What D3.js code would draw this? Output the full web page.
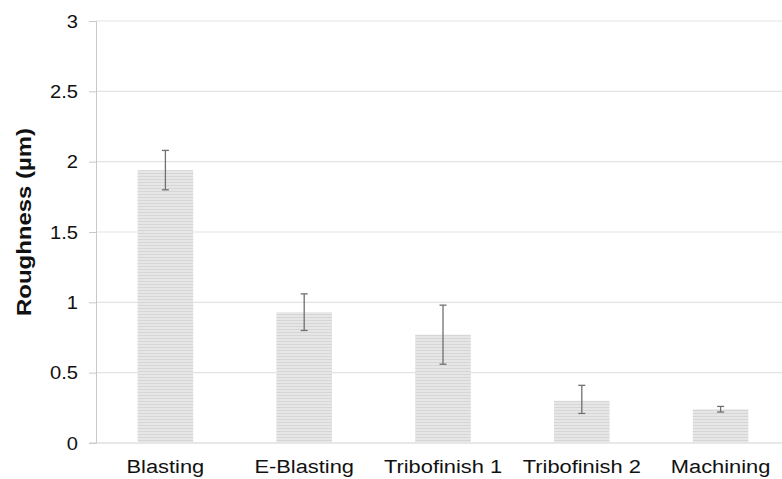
<!DOCTYPE html>
<html>
<head>
<meta charset="utf-8">
<script src="https://cdn.jsdelivr.net/npm/d3@7"></script>
<style>
  html, body { margin: 0; padding: 0; background: #fff; }
  svg { display: block; }
  text { font-family: "Liberation Sans", Arial, sans-serif; fill: #111; }
</style>
</head>
<body>
<svg id="chart" width="782" height="479"></svg>
<script>
const categories = ["Blasting", "E-Blasting", "Tribofinish 1", "Tribofinish 2", "Machining"];
const roughness = [1.94, 0.93, 0.77, 0.30, 0.24];
const errorLow = [1.80, 0.80, 0.56, 0.21, 0.22];
const errorHigh = [2.08, 1.06, 0.98, 0.41, 0.26];
const yTicks = [0, 0.5, 1, 1.5, 2, 2.5, 3];
const yTitle = "Roughness (µm)";

const svg = d3.select("#chart");
const mLeft = 96, mRight = 790, mTop = 21, mBottom = 443;

const defs = svg.append("defs");
const pat = defs.append("pattern")
  .attr("id", "stripes").attr("patternUnits", "userSpaceOnUse")
  .attr("width", 8).attr("height", 3);
pat.append("rect").attr("width", 8).attr("height", 3).attr("fill", "#e6e6e6");
pat.append("rect").attr("y", 2).attr("width", 8).attr("height", 1).attr("fill", "#d6d6d6");

const x = d3.scaleBand().domain(categories).range([mLeft, mRight])
  .paddingInner(0.6).paddingOuter(0.3);
const y = d3.scaleLinear().domain([0, 3]).range([mBottom, mTop]);

// gridlines
svg.append("g").selectAll("line").data(yTicks.filter(d => d > 0)).join("line")
  .attr("x1", mLeft).attr("x2", 782)
  .attr("y1", d => y(d)).attr("y2", d => y(d))
  .attr("stroke", "#e3e3e3").attr("stroke-width", 1.2);

// y axis
const yAxis = svg.append("g").attr("transform", `translate(${mLeft},0)`)
  .call(d3.axisLeft(y).tickValues(yTicks).tickSize(7).tickPadding(0).tickFormat(d3.format("")));
yAxis.select(".domain").attr("stroke", "#c8c8c8");
yAxis.selectAll(".tick line").attr("stroke", "#c8c8c8");
yAxis.selectAll(".tick text")
  .attr("x", null)
  .attr("transform", "translate(-18,0) scale(1.06,1)")
  .attr("font-size", 19).style("fill", "#111");

// baseline
svg.append("line").attr("x1", mLeft - 7).attr("x2", 782)
  .attr("y1", y(0)).attr("y2", y(0)).attr("stroke", "#d0d0d0");

// bars
svg.append("g").selectAll("rect").data(categories).join("rect")
  .attr("x", d => x(d)).attr("width", x.bandwidth())
  .attr("y", (d, i) => y(roughness[i]))
  .attr("height", (d, i) => y(0) - y(roughness[i]))
  .attr("fill", "url(#stripes)");

// error bars
const eb = svg.append("g").attr("stroke", "#707070").attr("stroke-width", 1.3);
categories.forEach((c, i) => {
  const cx = x(c) + x.bandwidth() / 2;
  eb.append("line").attr("x1", cx).attr("x2", cx).attr("y1", y(errorLow[i])).attr("y2", y(errorHigh[i]));
  eb.append("line").attr("x1", cx - 3.5).attr("x2", cx + 3.5).attr("y1", y(errorLow[i])).attr("y2", y(errorLow[i]));
  eb.append("line").attr("x1", cx - 3.5).attr("x2", cx + 3.5).attr("y1", y(errorHigh[i])).attr("y2", y(errorHigh[i]));
});

// x labels
svg.append("g").selectAll("text").data(categories).join("text")
  .attr("transform", d => `translate(${x(d) + x.bandwidth() / 2},473) scale(1.15,1)`)
  .attr("text-anchor", "middle").attr("font-size", 19).text(d => d);

// y title
svg.append("text").attr("transform", `translate(31,222) rotate(-90) scale(1.14,1)`)
  .attr("text-anchor", "middle").attr("font-size", 21).attr("font-weight", "bold")
  .text(yTitle);
</script>
</body>
</html>
